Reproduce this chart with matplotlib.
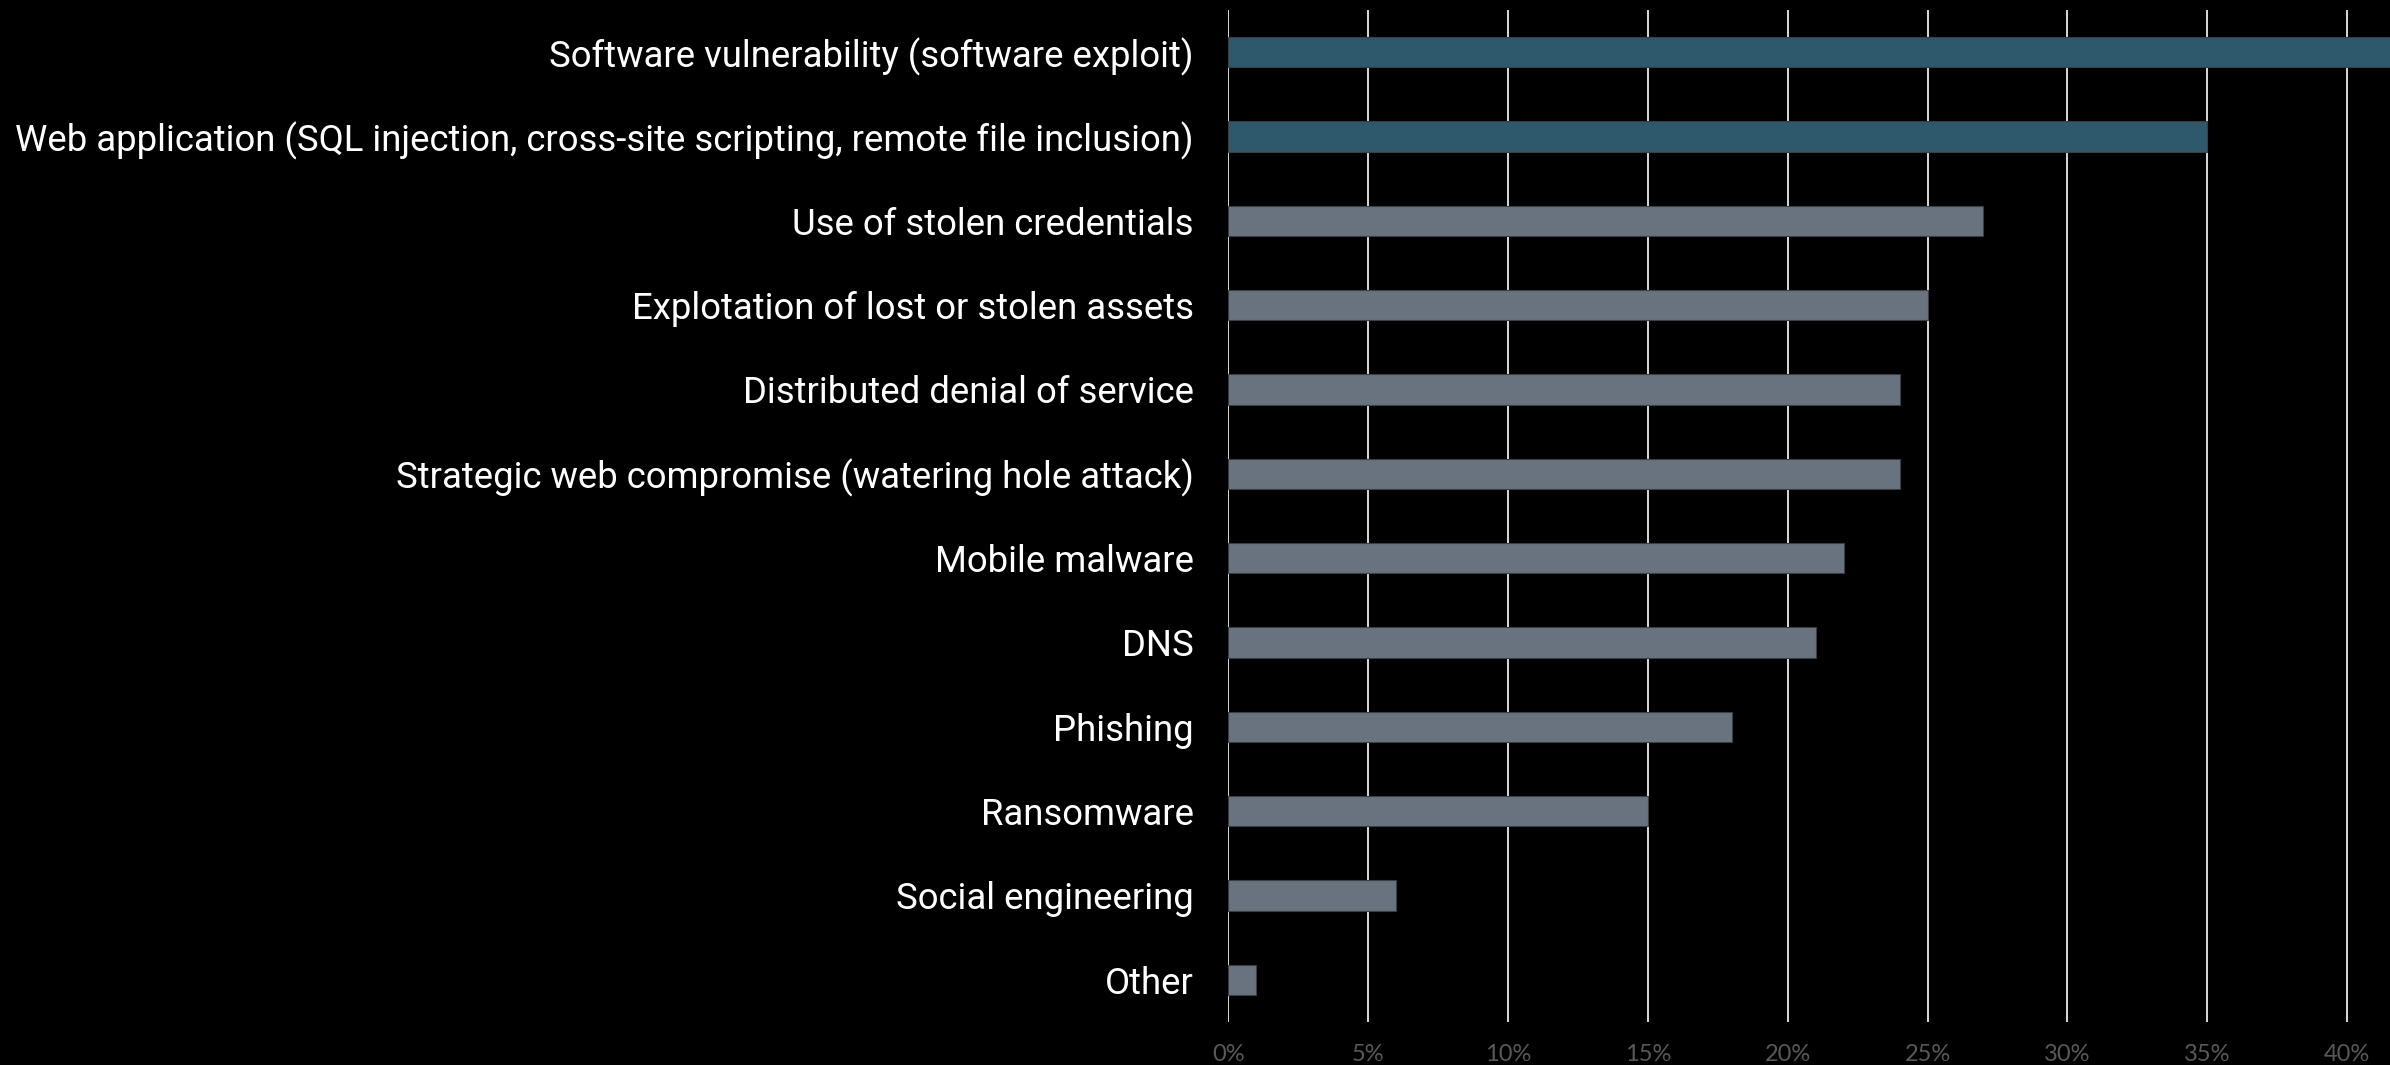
import matplotlib.pyplot as plt
from matplotlib.ticker import PercentFormatter

# Data, top to bottom
categories = [
    'Software vulnerability (software exploit)',
    'Web application (SQL injection, cross-site scripting, remote file inclusion)',
    'Use of stolen credentials',
    'Explotation of lost or stolen assets',
    'Distributed denial of service',
    'Strategic web compromise (watering hole attack)',
    'Mobile malware',
    'DNS',
    'Phishing',
    'Ransomware',
    'Social engineering',
    'Other',
]
values = [42, 35, 27, 25, 24, 24, 22, 21, 18, 15, 6, 1]
highlight = [True, True] + [False] * 10
ticks = [0, 5, 10, 15, 20, 25, 30, 35, 40]

fig = plt.figure(figsize=(23.9, 10.65), dpi=100, facecolor='black')
ax = fig.add_axes([0.514, 0.0404, 0.486, 0.9502])
ax.set_facecolor('black')

colors = ['#2e586c' if h else '#68737f' for h in highlight]
pos = list(range(len(categories)))
ax.barh(pos, values, height=0.36, color=colors, edgecolor='#3a3f45', linewidth=0.8, zorder=3)

ax.set_ylim(len(categories) - 0.5, -0.5)
ax.set_xlim(0, 41.54)
ax.set_xticks(ticks)
ax.xaxis.set_major_formatter(PercentFormatter(decimals=0))
ax.grid(axis='x', color='#d9d9d9', linewidth=1.4, zorder=1)

ax.set_yticks(pos)
ax.set_yticklabels(categories, fontsize=26.3, color='white', family='Roboto')
ax.tick_params(axis='y', length=0, pad=25)
ax.tick_params(axis='x', length=0, pad=16, labelsize=17, labelcolor='#595959')
for lbl in ax.get_xticklabels():
    lbl.set_family('Lato')

for s in ax.spines.values():
    s.set_visible(False)

fig.savefig('out.png', dpi=100, facecolor='black')
